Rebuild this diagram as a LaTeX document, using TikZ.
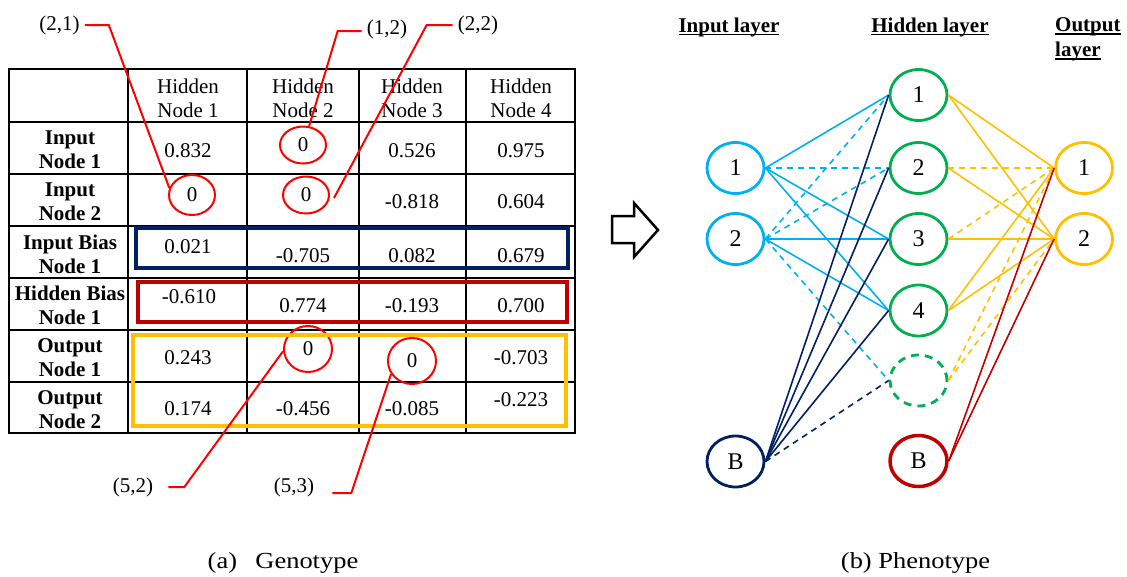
\documentclass[tikz,border=0pt]{standalone}
\usepackage{graphicx}
\usepackage{fontspec}
\setmainfont{Liberation Serif}
\usetikzlibrary{shapes.geometric,calc}

\definecolor{skyline}{HTML}{00B0F0}
\definecolor{navyline}{HTML}{002060}
\definecolor{hidgreen}{HTML}{00B050}
\definecolor{outgold}{HTML}{FFC000}
\definecolor{biasred}{HTML}{C00000}
\definecolor{markred}{HTML}{FF0000}

% underlined heading word with a firm rule
\newcommand{\hdrule}[1]{\setbox0=\hbox{#1}\rlap{\rule[-3pt]{\wd0}{1.5pt}}\box0}
% caption lettering, slightly widened
\newcommand{\wideset}[1]{\scalebox{1.15}[1]{#1}}

\begin{document}
\begin{tikzpicture}[x=1pt,y=-1pt,
  grid/.style={line width=2pt, black},
  cell/.style={inner sep=0pt, align=center, font=\fontsize{21}{24}\selectfont},
  rowhead/.style={inner sep=0pt, align=center, font=\fontsize{21}{24}\selectfont\bfseries},
  markcirc/.style={ellipse, draw=markred, line width=2pt, inner sep=0pt, font=\fontsize{21}{24}\selectfont},
  leader/.style={draw=markred, line width=2pt},
  tag/.style={inner sep=0pt, font=\fontsize{21}{24}\selectfont},
  biasbox/.style={line width=3.5pt},
  neuron/.style={ellipse, draw, line width=2.8pt, minimum width=57pt, minimum height=51pt, inner sep=0pt, font=\fontsize{24}{26}\selectfont},
  link/.style={line width=1.6pt},
  brokenlink/.style={line width=1.6pt, dash pattern=on 6pt off 5pt},
  layerhead/.style={inner sep=0pt, font=\fontsize{21}{25}\selectfont\bfseries},
  captiontext/.style={inner sep=0pt, font=\fontsize{23}{26}\selectfont}
]
\useasboundingbox (0,0) rectangle (1127,576);

% ---------------- genotype table ----------------
\draw[grid] (9,69) rectangle (575,433);
\foreach \cx in {128,247,359,466} \draw[grid] (\cx,69) -- (\cx,433);
\foreach \ry in {122,174,226,278,330,382} \draw[grid] (9,\ry) -- (575,\ry);

% column headings
\node[cell] (hc1) at (188,98) {Hidden\\Node 1};
\node[cell] (hc2) at (303,98) {Hidden\\Node 2};
\node[cell] (hc3) at (412,98) {Hidden\\Node 3};
\node[cell] (hc4) at (521,98) {Hidden\\Node 4};

% row headings
\node[rowhead] (r1) at (70,150) {Input\\Node 1};
\node[rowhead] (r2) at (70,201.5) {Input\\Node 2};
\node[rowhead] (r3) at (70,254) {Input Bias\\Node 1};
\node[rowhead] (r4) at (70,305.5) {Hidden Bias\\Node 1};
\node[rowhead] (r5) at (70,357.5) {Output\\Node 1};
\node[rowhead] (r6) at (70,409.5) {Output\\Node 2};

% weights
\node[cell] (v11) at (188,151) {0.832};
\node[cell] (v13) at (412,151) {0.526};
\node[cell] (v14) at (521,151) {0.975};
\node[cell] (v23) at (412,202) {-0.818};
\node[cell] (v24) at (521,202) {0.604};
\node[cell] (v31) at (188,247) {0.021};
\node[cell] (v32) at (303,256) {-0.705};
\node[cell] (v33) at (412,256) {0.082};
\node[cell] (v34) at (521,256) {0.679};
\node[cell] (v41) at (189,297) {-0.610};
\node[cell] (v42) at (303,306) {0.774};
\node[cell] (v43) at (412,306) {-0.193};
\node[cell] (v44) at (521,306) {0.700};
\node[cell] (v51) at (188,358) {0.243};
\node[cell] (v54) at (521,358) {-0.703};
\node[cell] (v61) at (188,409) {0.174};
\node[cell] (v62) at (303,409) {-0.456};
\node[cell] (v63) at (412,409) {-0.085};
\node[cell] (v64) at (521,400) {-0.223};

% pruned connections (zero weights)
\node[markcirc, minimum width=46pt, minimum height=37pt] (c12) at (303,145) {0};
\node[markcirc, minimum width=46pt, minimum height=40pt] (c21) at (192,195) {0};
\node[markcirc, minimum width=46pt, minimum height=37pt] (c22) at (306,195) {0};
\node[markcirc, minimum width=48pt, minimum height=46pt] (c52) at (308,349) {0};
\node[markcirc, minimum width=48pt, minimum height=46pt] (c53) at (412,361) {0};

% bias and output groups
\draw[biasbox, navyline] (136,228) rectangle (568,268);
\draw[biasbox, biasred] (138,282) rectangle (567,322);
\draw[biasbox, outgold] (133,335) rectangle (566,426);

% position tags and leaders
\node[tag] (t21) at (59.5,25) {(2,1)};
\node[tag] (t12) at (387,29) {(1,2)};
\node[tag] (t22) at (478,25) {(2,2)};
\node[tag] (t52) at (133,487) {(5,2)};
\node[tag] (t53) at (294,487) {(5,3)};

\draw[leader] ([xshift=5pt]t21.east) -- ++(24,0) -- (c21.163);
\draw[leader] ([shift={(-5,2)}]t12.west) -- ++(-24,0) -- (c12.72);
\draw[leader] ([xshift=-5pt]t22.west) -- ++(-26,0) -- ($(c22.east)+(4,3)$);
\draw[leader] ([xshift=15pt]t52.east) -- ++(16,0) -- (c52.185);
\draw[leader] ([shift={(18,6)}]t53.east) -- ++(19,0) -- (c53.212);

% ---------------- mapping arrow ----------------
\draw[line width=2.5pt, line join=miter] (612,216) -- (634,216) -- (634,203) -- (658,230)
  -- (634,257) -- (634,243) -- (612,243) -- cycle;

% ---------------- phenotype network ----------------
\node[layerhead] (hdin) at (729,27) {\hdrule{Input layer}};
\node[layerhead] (hdhid) at (930,27) {\hdrule{Hidden layer}};
\node[layerhead, align=left, anchor=west] (hdout) at (1055,39.5) {\hdrule{Output}\\\hdrule{layer}};

\node[neuron, draw=skyline] (in1) at (735.5,168) {1};
\node[neuron, draw=skyline] (in2) at (735.5,239) {2};
\node[neuron, draw=navyline] (inB) at (735.5,461.5) {B};

\node[neuron, draw=hidgreen] (h1) at (918.5,95) {1};
\node[neuron, draw=hidgreen] (h2) at (918.5,168) {2};
\node[neuron, draw=hidgreen] (h3) at (918.5,239) {3};
\node[neuron, draw=hidgreen] (h4) at (918.5,310.5) {4};
\node[neuron, draw=hidgreen, dash pattern=on 8pt off 6pt] (h5) at (918.5,380.5) {};
\node[neuron, draw=biasred, line width=3.5pt] (hB) at (918.5,461) {B};

\node[neuron, draw=outgold] (o1) at (1084,168) {1};
\node[neuron, draw=outgold] (o2) at (1084,239) {2};

% input -> hidden
\draw[link, skyline] (in1.east) -- (h1.west);
\draw[brokenlink, skyline] (in1.east) -- (h2.west);
\draw[link, skyline] (in1.east) -- (h3.west);
\draw[link, skyline] (in1.east) -- (h4.west);
\draw[brokenlink, skyline] (in2.east) -- (h1.west);
\draw[brokenlink, skyline] (in2.east) -- (h2.west);
\draw[link, skyline] (in2.east) -- (h3.west);
\draw[link, skyline] (in2.east) -- (h4.west);
\draw[brokenlink, skyline] (in2.east) -- (h5.west);

% input bias -> hidden
\draw[link, navyline] (inB.east) -- (h1.west);
\draw[link, navyline] (inB.east) -- (h2.west);
\draw[link, navyline] (inB.east) -- (h3.west);
\draw[link, navyline] (inB.east) -- (h4.west);
\draw[brokenlink, navyline] (inB.east) -- (h5.west);

% hidden -> output
\draw[link, outgold] (h1.east) -- (o1.west);
\draw[link, outgold] (h1.east) -- (o2.west);
\draw[brokenlink, outgold] (h2.east) -- (o1.west);
\draw[link, outgold] (h2.east) -- (o2.west);
\draw[brokenlink, outgold] (h3.east) -- (o1.west);
\draw[link, outgold] (h3.east) -- (o2.west);
\draw[link, outgold] (h4.east) -- (o1.west);
\draw[link, outgold] (h4.east) -- (o2.west);
\draw[brokenlink, outgold] (h5.east) -- (o1.west);
\draw[brokenlink, outgold] (h5.east) -- (o2.west);

% hidden bias -> output
\draw[link, biasred] (hB.east) -- (o1.west);
\draw[link, biasred] (hB.east) -- (o2.west);

% ---------------- captions ----------------
\node[captiontext] (capa) at (283,563) {\wideset{(a)\hspace{16pt}Genotype}};
\node[captiontext] (capb) at (915.5,563) {\wideset{(b) Phenotype}};
\end{tikzpicture}
\end{document}
